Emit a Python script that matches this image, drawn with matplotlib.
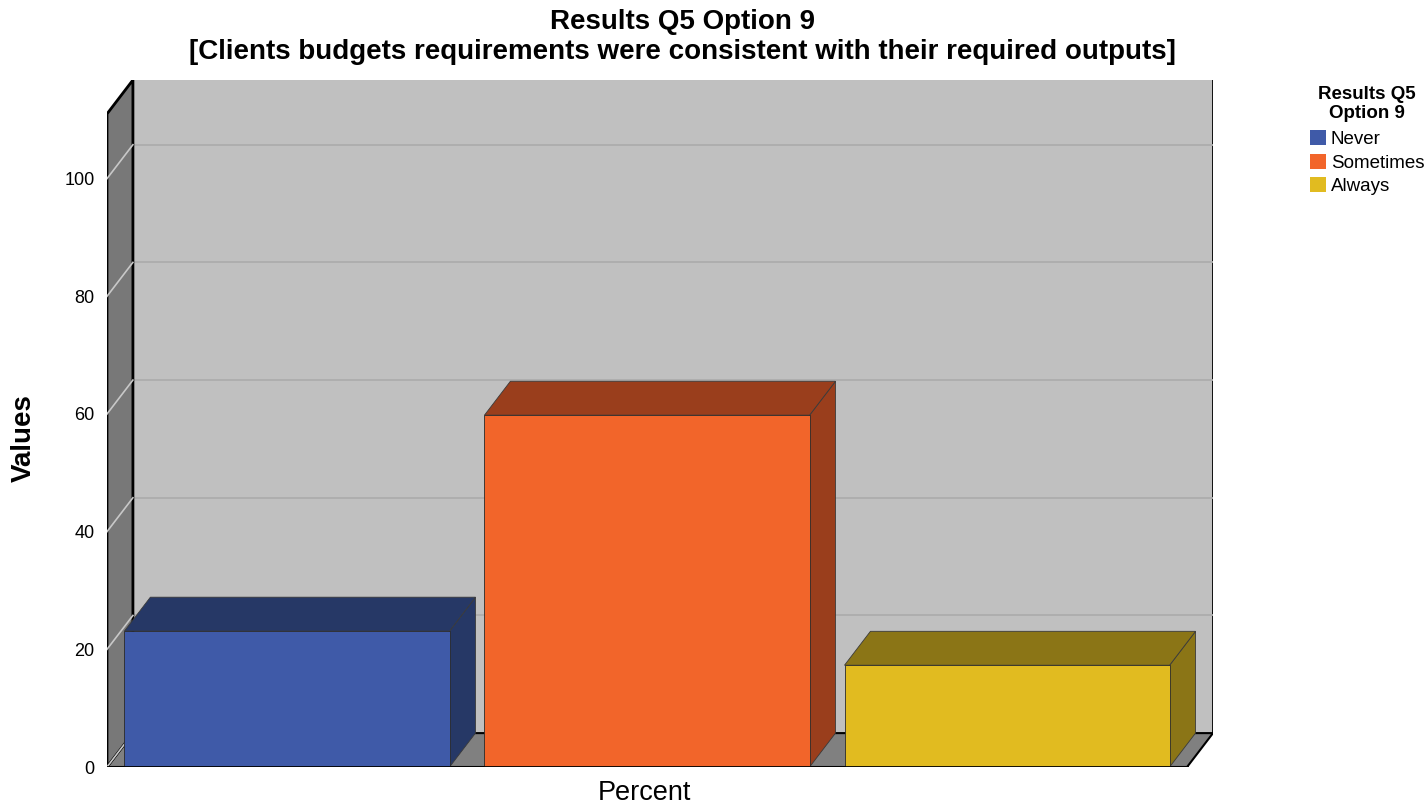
import matplotlib.pyplot as plt
from matplotlib.patches import Polygon, Patch

plt.rcParams['font.family'] = ['Liberation Sans', 'DejaVu Sans']

categories = ['Never', 'Sometimes', 'Always']
percent = [23.1, 59.8, 17.3]
front_colors = ['#3f5aa8', '#f2652a', '#e1bb20']
shade_colors = ['#263866', '#9a3e1c', '#8b7516']
yticks = [0, 20, 40, 60, 80, 100]

ymax = 111
dx, dy = 0.072, 5.76  # depth offset of the 3d box
x0, x1 = -0.5, 2.5
bar_w = 0.903

W, H = 1427, 808
fig = plt.figure(figsize=(W / 100, H / 100), dpi=100)
ax = fig.add_axes([107 / W, 41 / H, 1106 / W, 687 / H])
ax.set_xlim(x0, x1 + dx)
ax.set_ylim(0, ymax + dy)

# back wall, floor and left wall
ax.add_patch(Polygon([(x0 + dx, dy), (x1 + dx, dy), (x1 + dx, ymax + dy), (x0 + dx, ymax + dy)],
                     closed=True, facecolor='#c0c0c0', edgecolor='none', zorder=1))
ax.plot([x1 + dx, x1 + dx], [dy, ymax + dy], color='black', lw=2, zorder=2)
ax.add_patch(Polygon([(x0, 0), (x1, 0), (x1 + dx, dy), (x0 + dx, dy)],
                     closed=True, facecolor='#808080', edgecolor='black', lw=1.5, zorder=2))
ax.add_patch(Polygon([(x0, 0), (x0, ymax), (x0 + dx, ymax + dy), (x0 + dx, dy)],
                     closed=True, facecolor='#787878', edgecolor='black', lw=2, zorder=3))

# gridlines on both walls
for t in yticks[1:]:
    ax.plot([x0 + dx, x1 + dx], [t + dy, t + dy], color='#adadad', lw=1.3, zorder=2)
for t in yticks:
    ax.plot([x0, x0 + dx], [t, t + dy], color='#c8c8c8', lw=1.2, zorder=4)

# 3d bars
for i, (v, fc, sc) in enumerate(zip(percent, front_colors, shade_colors)):
    xl, xr = i - bar_w / 2, i + bar_w / 2
    ax.add_patch(Polygon([(xr, 0), (xr + dx, dy), (xr + dx, v + dy), (xr, v)],
                         closed=True, facecolor=sc, edgecolor='#3a3a3a', lw=0.6, zorder=5))
    ax.add_patch(Polygon([(xl, v), (xl + dx, v + dy), (xr + dx, v + dy), (xr, v)],
                         closed=True, facecolor=sc, edgecolor='#3a3a3a', lw=0.6, zorder=5))
    ax.add_patch(Polygon([(xl, 0), (xr, 0), (xr, v), (xl, v)],
                         closed=True, facecolor=fc, edgecolor='#2a2a2a', lw=0.6, zorder=6))

ax.plot([x0, x1], [0, 0], color='black', lw=2, zorder=7)

for s in ax.spines.values():
    s.set_visible(False)
ax.set_xticks([])
ax.set_yticks(yticks)
ax.tick_params(axis='y', length=0, pad=9, labelsize=13)

fig.text(24 / W, 1 - 438 / H, 'Values', rotation=90, ha='center', va='center',
         fontsize=20, fontweight='bold')
fig.text(644 / W, 1 - 793 / H, 'Percent', ha='center', va='center', fontsize=19.5)
fig.text(682 / W, 1 - 9 / H,
         'Results Q5 Option 9\n[Clients budgets requirements were consistent with their required outputs]',
         ha='center', va='top', fontsize=20, fontweight='bold', linespacing=1.2)

handles = [Patch(facecolor=c, edgecolor='none') for c in front_colors]
leg = fig.legend(handles, categories, title='Results Q5\nOption 9', loc='upper left',
                 bbox_to_anchor=(1310 / W, 1 - 86 / H), frameon=False, fontsize=13.5,
                 handlelength=0.85, handleheight=0.85, handletextpad=0.25, labelspacing=0.3,
                 borderaxespad=0, borderpad=0)
leg.get_title().set_fontweight('bold')
leg.get_title().set_fontsize(13.5)
leg.get_title().set_multialignment('center')
leg.get_title().set_linespacing(1.15)
leg._legend_box.sep = 6

fig.savefig('out.png', dpi=100)
